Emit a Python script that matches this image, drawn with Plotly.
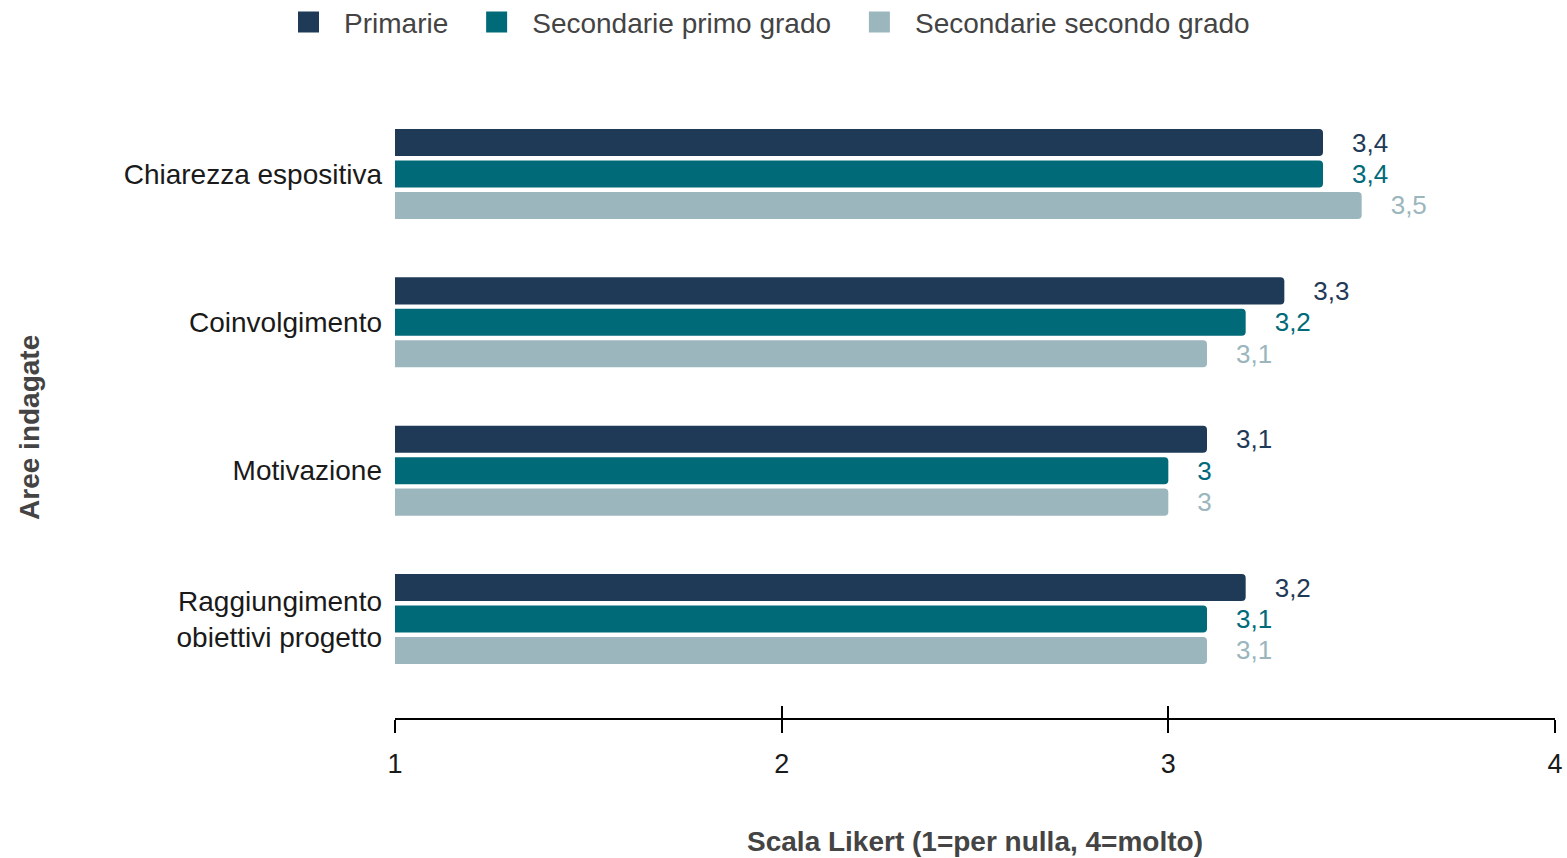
import plotly.graph_objects as go

# Survey areas and mean Likert scores per school level
categories = [
    "Chiarezza espositiva",
    "Coinvolgimento",
    "Motivazione",
    "Raggiungimento<br>obiettivi progetto",
]
series_names = ["Primarie", "Secondarie primo grado", "Secondarie secondo grado"]
primarie = [3.4, 3.3, 3.1, 3.2]
secondarie_primo = [3.4, 3.2, 3.0, 3.1]
secondarie_secondo = [3.5, 3.1, 3.0, 3.1]
x_ticks = [1, 2, 3, 4]

colors = ["#1F3A57", "#006A79", "#9BB6BD"]
values = [primarie, secondarie_primo, secondarie_secondo]

FONT = "Liberation Sans, Arial, sans-serif"
GAP = "\u2002\u2002"
NBSP = "\u00a0"

fig = go.Figure()

for name, vals, col in zip(series_names, values, colors):
    fig.add_trace(go.Bar(
        name=name,
        y=categories,
        x=vals,
        orientation="h",
        marker=dict(color=col, line=dict(width=0)),
        texttemplate=GAP + "%{x}",
        textposition="outside",
        textfont=dict(family=FONT, size=26, color=col),
        constraintext="none",
        cliponaxis=False,
        showlegend=False,
        hovertemplate=name + ": %{x}<extra></extra>",
    ))

# Legend entries with larger square swatches (placed on the overlay axis
# so that its inward tick marks are drawn as well)
for name, col in zip(series_names, colors):
    fig.add_trace(go.Scatter(
        name=NBSP * 2 + name + NBSP * 3,
        x=[None], y=[None],
        xaxis="x2",
        mode="markers",
        marker=dict(symbol="square", size=16, color=col,
                    line=dict(color=col, width=5)),
        showlegend=True,
        hoverinfo="skip",
    ))

fig.update_layout(
    width=1567,
    height=858,
    margin=dict(l=395, r=12, t=75, b=140, autoexpand=False),
    paper_bgcolor="white",
    plot_bgcolor="white",
    separators=",.",
    barmode="group",
    bargap=0.364,
    bargroupgap=0.14,
    barcornerradius=4,
    font=dict(family=FONT, size=27, color="#1a1a1a"),
    legend=dict(
        orientation="h",
        xref="container", yref="paper",
        x=0.5, xanchor="center",
        y=1.121, yanchor="top",
        font=dict(family=FONT, size=28, color="#444444"),
        itemclick=False,
        itemdoubleclick=False,
    ),
    xaxis=dict(
        range=[1, 4],
        tickvals=x_ticks,
        ticktext=[str(t) for t in x_ticks],
        showgrid=False,
        zeroline=False,
        showline=True,
        linecolor="black",
        linewidth=2,
        ticks="outside",
        ticklen=13,
        tickwidth=2,
        tickcolor="black",
        ticklabelstandoff=8,
        automargin=False,
        tickfont=dict(family=FONT, size=27, color="#1a1a1a"),
        title=dict(
            text="<b>Scala Likert (1=per nulla, 4=molto)</b>",
            font=dict(family=FONT, size=28, color="#444444"),
            standoff=53,
        ),
        fixedrange=True,
    ),
    xaxis2=dict(
        overlaying="x",
        matches="x",
        anchor="y",
        side="bottom",
        range=[1, 4],
        tickvals=x_ticks,
        showticklabels=False,
        showgrid=False,
        zeroline=False,
        showline=False,
        ticks="inside",
        ticklen=12,
        tickwidth=2,
        tickcolor="black",
        automargin=False,
        fixedrange=True,
    ),
    yaxis=dict(
        categoryorder="array",
        categoryarray=categories,
        range=[3.667, -0.667],
        showgrid=False,
        zeroline=False,
        showline=False,
        ticks="",
        ticklabelstandoff=12,
        automargin=False,
        tickfont=dict(family=FONT, size=28, color="#1a1a1a"),
        fixedrange=True,
    ),
    annotations=[dict(
        text="<b>Aree indagate</b>",
        textangle=-90,
        xref="paper", yref="paper",
        x=-0.3147, y=0.4526,
        xanchor="center", yanchor="middle",
        showarrow=False,
        font=dict(family=FONT, size=28, color="#444444"),
    )],
)

fig.write_html("out.html")
